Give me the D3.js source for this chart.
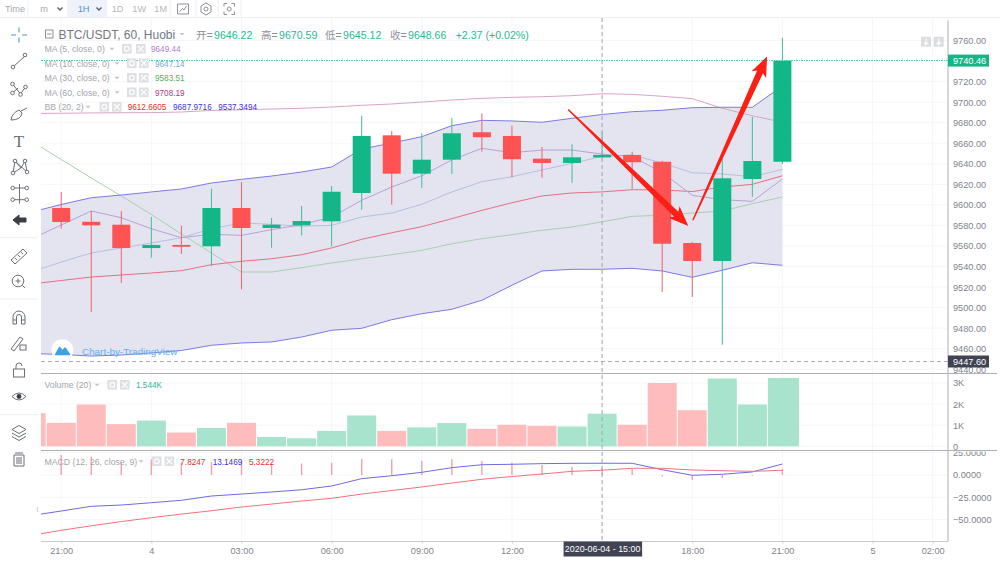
<!DOCTYPE html>
<html>
<head>
<meta charset="utf-8">
<script src="https://cdn.jsdelivr.net/npm/d3@7"></script>
<style>
  html, body { margin: 0; padding: 0; background: #fff; }
  svg { display: block; }
  text { font-family: "Liberation Sans", "Noto Sans CJK SC", sans-serif; }
</style>
</head>
<body>
<div id="chart"></div>
<script>
// candles, index 0 is 21:00 on the 3rd, one bar per hour
const opens  = [9597, 9583.6, 9580.7, 9558, 9561, 9559.7, 9597, 9577.5, 9580.1, 9584, 9611.6, 9667.7, 9630.4, 9644, 9670.7, 9667.1, 9645, 9640.8, 9646.22, 9648.6, 9642, 9562.9, 9545.4, 9625.2, 9642];
const highs  = [9612.6, 9594.1, 9594, 9588.2, 9579.8, 9615.8, 9622.3, 9587.3, 9598.9, 9618.4, 9686.8, 9671.9, 9669.7, 9684.6, 9689.2, 9677.1, 9656.4, 9659, 9670.59, 9651.8, 9643, 9564, 9644.7, 9685.8, 9762.7];
const lows   = [9576.8, 9495.8, 9524, 9548.6, 9552.2, 9540.5, 9517.9, 9558.3, 9570.4, 9559.7, 9595.3, 9600.2, 9616.4, 9630.1, 9651.8, 9626.9, 9626.5, 9621.6, 9645.12, 9615.5, 9515.2, 9510.4, 9463.9, 9607.7, 9639.8];
const closes = [9583.4, 9580.1, 9558, 9561, 9559.3, 9597, 9577.5, 9580.7, 9584.3, 9612.8, 9667.1, 9630.4, 9644, 9669.7, 9665.8, 9644.4, 9640.8, 9646.3, 9648.66, 9641.5, 9562.2, 9545.4, 9625.9, 9642.7, 9740.46];

// indicators start one bar earlier, index -1 is cut off by the pane edge
const ma5  = [9566.8, 9580.4, 9594.1, 9587.5, 9576.8, 9568.1, 9571.4, 9570.4, 9575.9, 9580.7, 9588.2, 9604.5, 9617.4, 9628.4, 9643.7, 9655.1, 9650.8, 9653.4, 9653.4, 9649.44, 9646.9, 9631.7, 9609.3, 9605.1, 9603.5, 9625.2];
const ma10 = [9534.7, 9544.4, 9553.2, 9558.1, 9562.9, 9568.1, 9576.8, 9582.4, 9581.1, 9579.2, 9580.1, 9588.2, 9592.1, 9600.6, 9612.6, 9622.6, 9627.4, 9634, 9640.5, 9647.14, 9648.6, 9640.8, 9631.3, 9630.1, 9627.4, 9634.6];
const ma30 = [9662.2, 9644.2, 9626.2, 9608.7, 9590.7, 9571.7, 9553.2, 9534.7, 9534.7, 9538.9, 9543.5, 9547.6, 9551.5, 9555.8, 9562.2, 9567.1, 9571, 9575.3, 9578.5, 9583.51, 9588.9, 9589.9, 9592.1, 9594.1, 9601.2, 9607.7];
const ma60 = [9689, 9689.2, 9689.5, 9689.7, 9689.8, 9690.4, 9691.9, 9692.6, 9693.3, 9694, 9695.3, 9696.9, 9698.2, 9700.1, 9702.1, 9703.7, 9704.7, 9705.3, 9706.3, 9708.19, 9707.6, 9705.7, 9703.4, 9694, 9686.8, 9680.4];
const bbBasis = [9523, 9526.4, 9529.8, 9531.8, 9533.7, 9536, 9541.8, 9545.1, 9547.6, 9551.5, 9558.1, 9566.5, 9572.9, 9578.8, 9586.6, 9594.7, 9602.1, 9608.7, 9611.6, 9612.66, 9614.8, 9614.5, 9613, 9617.4, 9620, 9628.4];
const bbUpper = [9593, 9600.4, 9607, 9609.6, 9612.6, 9615.5, 9621.3, 9624.9, 9628.1, 9632, 9636.9, 9654.4, 9660.2, 9666.4, 9677.1, 9682.3, 9681.7, 9680.4, 9684.3, 9687.97, 9690.7, 9692.1, 9694.6, 9695, 9695, 9715.7];
const bbLower = [9455.4, 9454.4, 9452.9, 9453.9, 9455.9, 9458.3, 9463.4, 9465.6, 9466.6, 9471.4, 9478, 9479.9, 9488.3, 9494.1, 9498.4, 9507.2, 9521.8, 9535.7, 9537.3, 9537.35, 9538.3, 9535.7, 9529.5, 9536.4, 9543.7, 9541.2];

const volumes = [1570, 1110, 1980, 1050, 1220, 650, 870, 1110, 440, 380, 730, 1460, 730, 900, 1100, 830, 1020, 970, 940, 1544, 1020, 3000, 1710, 3210, 1980, 3240];
const volumeUp = [0, 0, 0, 0, 1, 0, 1, 0, 1, 1, 1, 1, 0, 1, 1, 0, 0, 0, 1, 1, 0, 0, 0, 1, 1, 1];

const macdLine   = [-45.4, -40.3, -35, -33.6, -31, -28.3, -23.5, -21.3, -19, -16.5, -12.3, -4.1, -0.8, 3, 8.2, 11.5, 12, 12.7, 13.1, 13.15, 13.1, 5.9, -0.3, 0.8, 3.4, 12.3];
const macdSignal = [-67.5, -61.9, -56.8, -52.1, -47.8, -43.7, -40, -35.8, -32.5, -29.1, -26.1, -21.3, -17.4, -13.4, -9, -4.8, -1.7, 1.1, 4.1, 5.32, 7.5, 7.5, 5.6, 4.8, 4.1, 5.32];
const macdHist   = [22.4, 20.5, 13.8, 17.5, 13.8, 14.6, 16, 13, 13, 13.8, 17.9, 17.5, 16, 17.5, 16, 13.8, 11.2, 9.3, 7.82, 6.7, -1.7, -5.6, -3.4, -0.7, 7];

const priceTicks = [9760, 9740, 9720, 9700, 9680, 9660, 9640, 9620, 9600, 9580, 9560, 9540, 9520, 9500, 9480, 9460, 9440];
const volumeTicks = [0, 1000, 2000, 3000];
const macdTicks = [25, 0, -25, -50];
const timeTickIdx = [0, 3, 6, 9, 12, 15, 21, 24, 27, 29];
const timeTickLabels = ["21:00", "4", "03:00", "06:00", "09:00", "12:00", "18:00", "21:00", "5", "02:00"];

const lastPrice = 9740.46, crossPrice = 9447.60, crossIdx = 18;
// hand drawn arrows on top of the chart: [bar index, price]
const arrows = [
    { from: [16.87, 9692.9], to: [20.87, 9579.5] },
    { from: [21.02, 9585.1], to: [23.49, 9744.5] }
];

const RED = "#ff5252", GREEN = "#13b787", AXIS = "#7f838b", LINE = "#adb0b5";
const width = 1000, height = 562;
const paneLeft = 41, paneRight = 948, paneTop = 18, mainBottom = 373.5, volBottom = 450.5, macdBottom = 541.5;
const AXIS_FONT = 9.2, NAME_FONT = 8.7, VALUE_FONT = 8.2;

var x = d3.scaleLinear().domain([0, 24]).range([61.2, 782.4]);
var yPrice = d3.scaleLinear().domain([9760, 9460]).range([40.5, 348.75]);
var yVol = d3.scaleLinear().domain([0, 3000]).range([446.3, 383]);
var yMacd = d3.scaleLinear().domain([0, -50]).range([475, 519.7]);

var svg;

function init() {
    svg = d3.select("#chart").append("svg").attr("width", width).attr("height", height);
    var defs = svg.append("defs");
    addClip(defs, "clipMain", paneLeft, paneTop, paneRight - paneLeft, mainBottom - paneTop);
    addClip(defs, "clipVol", paneLeft, mainBottom, paneRight - paneLeft, volBottom - mainBottom);
    addClip(defs, "clipMacd", paneLeft, volBottom, paneRight - paneLeft, macdBottom - volBottom);
    addClip(defs, "clipAxisMain", paneRight, paneTop, 52, mainBottom - paneTop);
    addClip(defs, "clipAxisMacd", paneRight, volBottom + 1, 52, macdBottom - volBottom);

    drawGrid();
    drawMain();
    drawVolume();
    drawMacd();
    drawFrame();
    drawAxes();
    drawLegends();
    drawToolbars();
    drawArrows();
}

function addClip(defs, id, xx, yy, w, h) {
    defs.append("clipPath").attr("id", id).append("rect")
        .attr("x", xx).attr("y", yy).attr("width", w).attr("height", h);
}

function drawGrid() {
    var g = svg.append("g").attr("stroke", "#f5f6f8").attr("stroke-width", 1);
    g.append("g").selectAll("line").data(timeTickIdx.concat([crossIdx])).join("line")
        .attr("x1", d => x(d)).attr("x2", d => x(d)).attr("y1", paneTop).attr("y2", macdBottom);
    g.append("g").attr("clip-path", "url(#clipMain)").selectAll("line").data(priceTicks).join("line")
        .attr("x1", paneLeft).attr("x2", paneRight).attr("y1", d => yPrice(d)).attr("y2", d => yPrice(d));
    g.append("g").selectAll("line").data(volumeTicks).join("line")
        .attr("x1", paneLeft).attr("x2", paneRight).attr("y1", d => yVol(d)).attr("y2", d => yVol(d));
    g.append("g").selectAll("line").data(macdTicks).join("line")
        .attr("x1", paneLeft).attr("x2", paneRight).attr("y1", d => yMacd(d)).attr("y2", d => yMacd(d));
}

function drawMain() {
    var g = svg.append("g").attr("clip-path", "url(#clipMain)");

    var band = d3.area()
        .x((d, i) => x(i - 1))
        .y0((d, i) => yPrice(bbLower[i]))
        .y1(d => yPrice(d));
    g.append("path").datum(bbUpper).attr("d", band).attr("fill", "#e3e4f0");

    var line = d3.line().x((d, i) => x(i - 1)).y(d => yPrice(d));
    var series = [
        [ma60, "#d9a3cb"], [ma30, "#a9cfae"], [bbBasis, "#e4707f"],
        [ma10, "#b6bfe0"], [ma5, "#b8a0d8"], [bbUpper, "#7d78e3"], [bbLower, "#7d78e3"]
    ];
    g.selectAll(".ind").data(series).join("path")
        .attr("class", "ind")
        .attr("d", d => line(d[0]))
        .attr("fill", "none").attr("stroke", d => d[1]).attr("stroke-width", 1);

    var candles = g.selectAll(".candle").data(closes).join("g").attr("class", "candle");
    candles.append("line")
        .attr("x1", (d, i) => x(i)).attr("x2", (d, i) => x(i))
        .attr("y1", (d, i) => yPrice(highs[i])).attr("y2", (d, i) => yPrice(lows[i]))
        .attr("stroke", (d, i) => d >= opens[i] ? "#3fbf9c" : "#f0626a").attr("stroke-width", 1);
    candles.append("rect")
        .attr("x", (d, i) => x(i) - 9).attr("width", 18)
        .attr("y", (d, i) => yPrice(Math.max(d, opens[i])))
        .attr("height", (d, i) => Math.max(1, Math.abs(yPrice(d) - yPrice(opens[i]))))
        .attr("fill", (d, i) => d >= opens[i] ? GREEN : RED);

    // watermark
    g.append("circle").attr("cx", 62.3).attr("cy", 350.3).attr("r", 11).attr("fill", "#fff");
    g.append("path").attr("d", "M55.5 354.5 L59.5 347.5 L62.5 351 L65 348 L69.5 354.5 Z")
        .attr("fill", "#3fa2e6").attr("stroke", "#3fa2e6").attr("stroke-width", 1.5).attr("stroke-linejoin", "round");
    g.append("text").attr("x", 82).attr("y", 355.3).attr("font-size", 9.9).attr("fill", "#5eb2ee")
        .text("Chart-by-TradingView");

    // last price and crosshair lines, crisp so the dots keep their colour
    svg.append("line").attr("x1", paneLeft).attr("x2", paneRight)
        .attr("y1", yPrice(lastPrice)).attr("y2", yPrice(lastPrice))
        .attr("stroke", "#55cdac").attr("stroke-dasharray", "1.5 1").attr("shape-rendering", "crispEdges");
    svg.append("line").attr("x1", paneLeft).attr("x2", paneRight)
        .attr("y1", yPrice(crossPrice)).attr("y2", yPrice(crossPrice))
        .attr("stroke", "#a9acb4").attr("stroke-dasharray", "4 3");
}

function drawVolume() {
    var g = svg.append("g").attr("clip-path", "url(#clipVol)");
    g.selectAll("rect").data(volumes).join("rect")
        .attr("x", (d, i) => x(i - 1) - 14.5)
        .attr("width", (d, i) => i === volumes.length - 1 ? 31 : 29)
        .attr("y", d => yVol(d))
        .attr("height", d => yVol(0) - yVol(d))
        .attr("fill", (d, i) => volumeUp[i] ? "#a7e3cd" : "#ffbcbc");
}

function drawMacd() {
    var g = svg.append("g").attr("clip-path", "url(#clipMacd)");
    g.selectAll(".hist").data(macdHist).join("line")
        .attr("class", "hist")
        .attr("x1", (d, i) => x(i)).attr("x2", (d, i) => x(i))
        .attr("y1", yMacd(0)).attr("y2", d => yMacd(d))
        .attr("stroke", "#f4a0a8").attr("stroke-width", 1.4);
    var line = d3.line().x((d, i) => x(i - 1)).y(d => yMacd(d));
    g.append("path").datum(macdLine).attr("d", line).attr("fill", "none").attr("stroke", "#6f6ae0");
    g.append("path").datum(macdSignal).attr("d", line).attr("fill", "none").attr("stroke", "#f0727a");
}

function drawFrame() {
    // pane separators and price scale border
    svg.append("line").attr("x1", paneLeft).attr("x2", 997).attr("y1", mainBottom).attr("y2", mainBottom)
        .attr("stroke", LINE);
    svg.append("line").attr("x1", paneLeft).attr("x2", 997).attr("y1", volBottom).attr("y2", volBottom)
        .attr("stroke", LINE);
    svg.append("line").attr("x1", paneLeft).attr("x2", paneRight).attr("y1", macdBottom).attr("y2", macdBottom)
        .attr("stroke", "#c9cbd0");
    svg.append("line").attr("x1", paneRight).attr("x2", paneRight).attr("y1", 20.5).attr("y2", macdBottom)
        .attr("stroke", LINE);
    svg.append("line").attr("x1", x(crossIdx)).attr("x2", x(crossIdx)).attr("y1", paneTop).attr("y2", macdBottom)
        .attr("stroke", "#a0a4ad").attr("stroke-dasharray", "4 3");
}

function styleAxis(g) {
    g.select(".domain").remove();
    g.selectAll(".tick line").remove();
    g.selectAll(".tick text").attr("x", 0).attr("fill", AXIS).attr("font-size", AXIS_FONT)
        .attr("font-family", '"Liberation Sans", sans-serif');
}

function drawAxes() {
    svg.append("g").attr("clip-path", "url(#clipAxisMain)")
        .append("g").attr("transform", "translate(953,0)")
        .call(d3.axisRight(yPrice).tickValues(priceTicks).tickFormat(d3.format(".2f")))
        .call(styleAxis);
    svg.append("g").attr("transform", "translate(953,0)")
        .call(d3.axisRight(yVol).tickValues(volumeTicks).tickFormat(d => d === 0 ? "0" : (d / 1000) + "K"))
        .call(styleAxis);
    svg.append("g").attr("clip-path", "url(#clipAxisMacd)")
        .append("g").attr("transform", "translate(953,0)")
        .call(d3.axisRight(yMacd).tickValues(macdTicks).tickFormat(d3.format(".4f")))
        .call(styleAxis);

    var tx = d3.axisBottom(x).tickValues(timeTickIdx).tickFormat((d, i) => timeTickLabels[i]);
    svg.append("g").attr("transform", "translate(0," + macdBottom + ")").call(tx)
        .call(g => g.select(".domain").remove())
        .call(g => g.selectAll(".tick line").attr("y2", 2).attr("stroke", "#c9cbd0"))
        .call(g => g.selectAll(".tick text").attr("y", 6).attr("fill", AXIS).attr("font-size", AXIS_FONT)
            .attr("font-family", '"Liberation Sans", sans-serif'));

    // value tags on the price scale
    priceTag(lastPrice, GREEN);
    priceTag(crossPrice, "#3f4352");

    var cx = x(crossIdx);
    svg.append("rect").attr("x", cx - 38.5).attr("y", macdBottom).attr("width", 78.5).attr("height", 15)
        .attr("fill", "#3f4352");
    svg.append("text").attr("x", cx + 0.5).attr("y", macdBottom + 10.8).attr("text-anchor", "middle")
        .attr("fill", "#fff").attr("font-size", 8.9).text("2020-06-04 - 15:00");

    // scale mode buttons
    [921, 933.7].forEach(function (bx) {
        svg.append("rect").attr("x", bx).attr("y", 36.7).attr("width", 10).attr("height", 10).attr("fill", "#dcdde0");
        svg.append("path").attr("d", `M${bx + 5} 38.5 V44.5 M${bx + 3} 42.5 L${bx + 5} 44.7 L${bx + 7} 42.5`)
            .attr("stroke", "#fff").attr("stroke-width", 1.2).attr("fill", "none");
    });
}

function priceTag(value, color) {
    var yy = yPrice(value);
    svg.append("rect").attr("x", paneRight).attr("y", yy - 6).attr("width", 41).attr("height", 12).attr("fill", color);
    svg.append("text").attr("x", 953).attr("y", yy + 3.3).attr("fill", "#fff").attr("font-size", AXIS_FONT)
        .text(d3.format(".2f")(value));
}

function legendText(xx, yy, str, color, size) {
    return svg.append("text").attr("x", xx).attr("y", yy).attr("fill", color)
        .attr("font-size", size).text(str);
}

function caret(xx, yy) {
    svg.append("path").attr("d", `M${xx - 2.5} ${yy - 1} h5 l-2.5 2.5 z`).attr("fill", "#c2c4c9");
}

function legendButtons(x1, x2, yy) {
    [x1, x2].forEach(function (bx, i) {
        svg.append("rect").attr("x", bx).attr("y", yy - 4.8).attr("width", 9.6).attr("height", 9.6).attr("fill", "#dfe0e3");
        if (i === 0) {
            svg.append("circle").attr("cx", bx + 4.8).attr("cy", yy).attr("r", 2.4)
                .attr("fill", "none").attr("stroke", "#fff").attr("stroke-width", 1.2);
        } else {
            svg.append("path").attr("d", `M${bx + 2} ${yy - 2.8} l5.6 5.6 M${bx + 7.6} ${yy - 2.8} l-5.6 5.6`)
                .attr("stroke", "#fff").attr("stroke-width", 1.1);
        }
    });
}

function drawLegends() {
    var titleGrey = "#a3a6ac";
    // header
    svg.append("rect").attr("x", 45.5).attr("y", 30).attr("width", 7.5).attr("height", 8)
        .attr("fill", "none").attr("stroke", "#8e9198");
    svg.append("line").attr("x1", 47).attr("x2", 51.5).attr("y1", 34).attr("y2", 34).attr("stroke", "#8e9198");
    legendText(58.5, 38.8, "BTC/USDT, 60, Huobi", "#73777f", 12);
    caret(182, 34);
    var ohlc = [[196, "开=", 214, "9646.22"], [261, "高=", 279, "9670.59"], [325, "低=", 343, "9645.12"], [390, "收=", 408, "9648.66"]];
    ohlc.forEach(function (o) {
        legendText(o[0], 38.5, o[1], "#8e9198", 10.6);
        legendText(o[2], 38.5, o[3], "#2bb890", 10.6);
    });
    legendText(455.7, 38.5, "+2.37 (+0.02%)", "#2bb890", 10.6);

    // indicator rows
    var rows = [
        [52, "MA (5, close, 0)", 112, 122, 136, [[151, "9649.44", "#b27cd0"]]],
        [66.5, "MA (10, close, 0)", 117, 127, 139, [[155, "9647.14", "#72abd8"]]],
        [81, "MA (30, close, 0)", 117, 127, 139, [[155, "9583.51", "#57b060"]]],
        [95.5, "MA (60, close, 0)", 117, 127, 139, [[155, "9708.19", "#b13a86"]]],
        [110, "BB (20, 2)", 88, 99.5, 112, [[127.7, "9612.6605", "#f02b2b"], [173, "9687.9716", "#3b32e0"], [218.3, "9537.3494", "#3b32e0"]]],
        [388, "Volume (20)", 97, 107.5, 120, [[136, "1.544K", "#2bb890"]]],
        [464.5, "MACD (12, 26, close, 9)", 141, 152, 164.5, [[180.3, "7.8247", "#f02b2b"], [212.7, "13.1469", "#3b32e0"], [249, "5.3222", "#f02b2b"]]]
    ];
    rows.forEach(function (r) {
        legendText(44.5, r[0], r[1], titleGrey, NAME_FONT);
        caret(r[2], r[0] - 3.2);
        legendButtons(r[3], r[4], r[0] - 3.2);
        r[5].forEach(v => legendText(v[0], r[0], v[1], v[2], VALUE_FONT));
    });
}

function icon(d, opts) {
    opts = opts || {};
    return svg.append("path").attr("d", d)
        .attr("fill", opts.fill || "none")
        .attr("stroke", opts.stroke || "#6a6e76")
        .attr("stroke-width", opts.sw || 1);
}

function dots(list) {
    svg.append("g").selectAll("circle").data(list).join("circle")
        .attr("cx", d => d[0]).attr("cy", d => d[1]).attr("r", 1.8)
        .attr("fill", "#fff").attr("stroke", "#6a6e76");
}

function drawToolbars() {
    // top toolbar
    svg.insert("rect", ":first-child").attr("x", 67).attr("y", 0).attr("width", 40).attr("height", 17).attr("fill", "#eef3fb");
    svg.append("line").attr("x1", 0).attr("x2", width).attr("y1", 17.5).attr("y2", 17.5).attr("stroke", "#ebedf0");
    [28, 170, 196, 218, 241].forEach(function (sx) {
        svg.append("line").attr("x1", sx).attr("x2", sx).attr("y1", 0).attr("y2", 17).attr("stroke", "#eff0f2");
    });
    var labels = [[5, "Time", "#a5a8ae"], [40.3, "m", "#a5a8ae"], [77.7, "1H", "#4a8fe0"], [111.7, "1D", "#b5b8bd"], [132.3, "1W", "#b5b8bd"], [154.3, "1M", "#b5b8bd"]];
    labels.forEach(l => legendText(l[0], 11.8, l[1], l[2], 9.2));
    icon("M57.5 7.5 l2.5 2.5 l2.5 -2.5", { stroke: "#5a5e66", sw: 1.4 });
    icon("M96.5 7.5 l2.5 2.5 l2.5 -2.5", { stroke: "#5a5e66", sw: 1.4 });
    icon("M177.5 4 h11 v10 h-11 z M180 11.5 l2.5 -3 l1.5 1.5 l2.5 -4", { stroke: "#8e9198" });
    icon("M206 3 l5 3 v6 l-5 3 l-5 -3 v-6 z", { stroke: "#8e9198" });
    svg.append("circle").attr("cx", 206).attr("cy", 9).attr("r", 2).attr("fill", "none").attr("stroke", "#8e9198");
    icon("M224 6.5 v-3 h3 M231.5 3.5 h3 v3 M234.5 11.5 v3 h-3 M227 14.5 h-3 v-3", { stroke: "#8e9198" });
    svg.append("circle").attr("cx", 229.2).attr("cy", 9).attr("r", 2).attr("fill", "none").attr("stroke", "#8e9198");

    // left toolbar
    icon("M19 27.5 v5 M19 37.5 v5 M11 35 h5 M22 35 h5", { stroke: "#3f9fc9", sw: 1.1 });
    icon("M13 67 L25 56", {});
    dots([[13, 67], [25, 55]]);
    icon("M12.5 84 L20.5 94 M12.5 93 L18 88 M20.5 94 L25.5 87", {});
    dots([[12.5, 84], [12.5, 93], [20.5, 94.5], [25.5, 87]]);
    icon("M11 120 q1 -7 8 -10 l3 3 q-1 7 -11 7 z M21 111 l6 -3", {});
    svg.append("text").attr("x", 19).attr("y", 147).attr("text-anchor", "middle").attr("font-size", 17)
        .attr("fill", "#6a6e76").style("font-family", "Liberation Serif").text("T");
    icon("M13 173 L15 161 L21 168 L25 161 L27 172 M15 161 L27 172 M13 173 L21 168", {});
    dots([[13, 173], [15, 161], [25, 161], [27, 172]]);
    icon("M13 188 h13 M13 199.7 h13 M19.5 184 v19.5", {});
    dots([[12.7, 188], [12.7, 199.7], [26.7, 188], [26.7, 199.7]]);
    icon("M13 220 L19 215 V218 H26 V222 H19 V225 Z", { fill: "#3a3d44", stroke: "#3a3d44" });
    icon("M11 260 L23 249 L27 253 L15 264 Z M15 258 l2 2 M18 255 l2 2 M21 252 l2 2", {});
    svg.append("circle").attr("cx", 18).attr("cy", 281).attr("r", 5.8).attr("fill", "none").attr("stroke", "#6a6e76");
    icon("M15.5 281 h5 M18 278.5 v5 M22.5 285.5 L25 288", {});
    icon("M13 324 v-7 a6 6 0 0 1 12 0 v7 h-3.5 v-7 a2.5 2.5 0 0 0 -5 0 v7 z M13 320 h3.5 M21.5 320 h3.5", {});
    icon("M11 349 L20 337 L23 339 L14 351 Z", {});
    svg.append("rect").attr("x", 20).attr("y", 345).attr("width", 6).attr("height", 5).attr("fill", "none").attr("stroke", "#6a6e76");
    svg.append("rect").attr("x", 13.5).attr("y", 369).attr("width", 11).attr("height", 8).attr("fill", "none").attr("stroke", "#6a6e76");
    icon("M16 369 v-3 a3 3 0 0 1 6 0", {});
    icon("M12 396.5 q7 -7 14 0 q-7 7 -14 0 z", {});
    svg.append("circle").attr("cx", 19).attr("cy", 396.5).attr("r", 2.4).attr("fill", "#3a3d44");
    icon("M19 425.5 l7 4 l-7 4 l-7 -4 z M12 433 l7 4 l7 -4 M12 436.5 l7 4 l7 -4", {});
    icon("M15 453 h8 M14 455 h10 v11 h-10 z M17 457 v7 M19 457 v7 M21 457 v7", {});

    [237.7, 299, 414.7].forEach(function (sy) {
        svg.append("line").attr("x1", 0).attr("x2", 38).attr("y1", sy).attr("y2", sy).attr("stroke", "#eceef0");
    });
    icon("M38 507 q-2 2.5 0 5", { stroke: "#c9cbd0" });
}

function drawArrows() {
    // tapered shaft with a solid head, built along the line between both ends
    arrows.forEach(function (a) {
        var x0 = x(a.from[0]), y0 = yPrice(a.from[1]), x1 = x(a.to[0]), y1 = yPrice(a.to[1]);
        var len = Math.hypot(x1 - x0, y1 - y0), ux = (x1 - x0) / len, uy = (y1 - y0) / len;
        var at = function (along, side) {
            return [x0 + ux * along - uy * side, y0 + uy * along + ux * side];
        };
        var neck = len - 17;
        var pts = [at(0, 0.7), at(neck, 3.2), at(neck - 3, 8), at(len, 0), at(neck - 3, -8), at(neck, -3.2), at(0, -0.7)];
        svg.append("polygon").attr("points", pts.map(p => p.join(",")).join(" ")).attr("fill", "#fb1f16");
    });
}

window.onload = init;
</script>
</body>
</html>
